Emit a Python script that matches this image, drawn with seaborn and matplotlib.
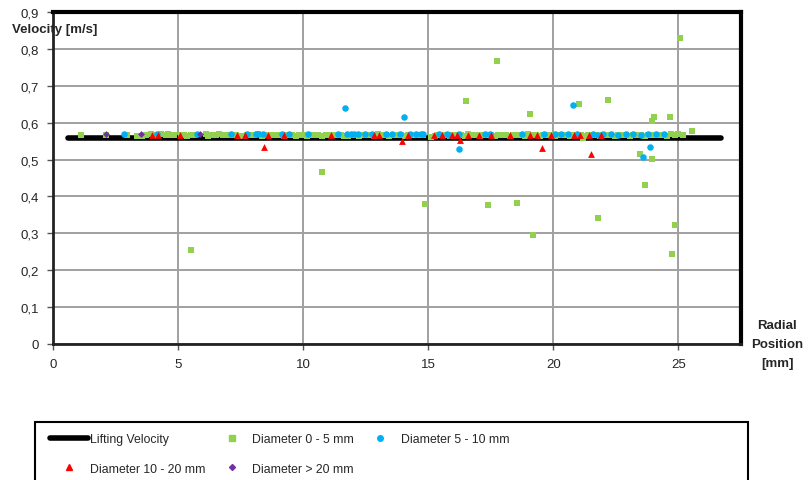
import pandas as pd
import numpy as np
import matplotlib
matplotlib.use('Agg')
import matplotlib.pyplot as plt
import seaborn as sns
from matplotlib.lines import Line2D
from matplotlib.patches import Rectangle

sns.set_style('white')
plt.rcParams['font.family'] = ['Liberation Sans Narrow', 'Liberation Sans', 'DejaVu Sans']

# ===== data =====
lift_x = [0.6, 26.7]
lift_v = [0.558, 0.558]

d0_5_x = [1.12, 2.1, 2.95, 3.35, 3.7, 3.9, 4.1, 4.3, 4.5, 4.7, 5.1, 5.35, 5.5, 5.65,
          6.1, 6.3, 6.5, 6.8, 7.0, 7.3, 7.6, 7.9, 8.2, 8.5, 8.8, 9.1, 9.4, 9.7, 10.0,
          10.3, 10.6, 10.9, 11.2, 11.5, 11.8, 12.1, 12.4, 12.7, 13.0, 13.3, 13.6, 13.9,
          14.2, 14.5, 14.8, 15.1, 15.4, 15.7, 16.0, 16.3, 16.6, 16.9, 17.2, 17.5, 17.8,
          18.1, 18.4, 18.7, 19.0, 19.3, 19.6, 19.9, 20.2, 20.5, 20.8, 21.1, 21.4, 21.7,
          22.0, 22.3, 22.6, 22.9, 23.2, 23.5, 23.8, 24.1, 24.4, 24.7, 25.0, 25.2,
          3.55, 4.6, 4.85, 5.25, 6.2, 6.65, 7.15, 7.45, 7.75, 8.05, 8.35, 8.65, 8.95,
          9.25, 9.55, 9.85, 10.15, 10.45, 10.75, 11.05, 11.35, 11.65, 11.95, 12.25,
          12.55, 12.85, 13.15, 13.45, 13.75, 14.05, 14.35, 14.65, 15.25, 15.55, 15.85,
          16.15, 16.45, 16.75, 17.05, 17.35, 17.65, 17.95, 18.25, 18.55, 18.85, 19.15,
          19.45, 19.75, 20.05, 20.35, 20.65, 20.95, 21.25, 21.55, 21.85, 22.15, 22.45,
          22.75, 23.05, 23.35, 23.65, 23.95, 24.25, 24.55, 24.85,
          5.52, 10.76, 14.88, 17.4, 18.56, 19.2, 21.8, 23.68, 24.88, 24.76, 17.75, 16.52,
          19.08, 21.03, 22.19, 25.08, 24.03, 23.96, 24.68, 25.55, 23.47, 23.96, 21.2]
d0_5_v = [0.566, 0.566, 0.566, 0.565, 0.567, 0.569, 0.566, 0.57, 0.566, 0.567, 0.566, 0.565, 0.567, 0.566,
          0.568, 0.566, 0.567, 0.566, 0.566, 0.567, 0.565, 0.566, 0.568, 0.566, 0.566, 0.567, 0.566, 0.565, 0.566,
          0.567, 0.566, 0.566, 0.567, 0.566, 0.565, 0.567, 0.566, 0.566, 0.568, 0.566, 0.567, 0.566,
          0.566, 0.567, 0.566, 0.562, 0.566, 0.567, 0.566, 0.566, 0.568, 0.566, 0.567, 0.566, 0.566,
          0.567, 0.566, 0.566, 0.568, 0.566, 0.567, 0.566, 0.566, 0.567, 0.566, 0.566, 0.567, 0.566,
          0.567, 0.566, 0.567, 0.566, 0.566, 0.567, 0.566, 0.567, 0.566, 0.568, 0.568, 0.567,
          0.565, 0.569, 0.566, 0.567, 0.565, 0.568, 0.566, 0.565, 0.567, 0.566, 0.564, 0.566, 0.567,
          0.565, 0.567, 0.566, 0.564, 0.566, 0.565, 0.567, 0.566, 0.564, 0.566, 0.565,
          0.567, 0.565, 0.566, 0.564, 0.566, 0.565, 0.567, 0.566, 0.565, 0.566, 0.564,
          0.567, 0.565, 0.566, 0.565, 0.567, 0.565, 0.566, 0.564, 0.566, 0.565, 0.567,
          0.565, 0.566, 0.564, 0.566, 0.565, 0.567, 0.565, 0.566, 0.564, 0.566, 0.565,
          0.566, 0.564, 0.566, 0.565, 0.566, 0.567, 0.565, 0.566,
          0.255, 0.466, 0.380, 0.378, 0.382, 0.295, 0.342, 0.431, 0.323, 0.245, 0.768, 0.660,
          0.624, 0.651, 0.662, 0.830, 0.616, 0.605, 0.616, 0.578, 0.516, 0.502, 0.558]

d5_10_x = [2.85, 4.15, 5.75, 7.12, 7.77, 8.12, 8.21, 8.41, 9.15, 9.45, 10.19, 11.39, 11.75,
           11.9, 12.05, 12.2, 12.48, 12.75, 13.3, 13.57, 13.88, 14.28, 14.5, 14.7, 14.8, 15.41,
           15.75, 15.81, 16.21, 17.28, 17.48, 18.75, 19.61, 20.08, 20.3, 20.6, 20.95, 21.6, 21.8,
           22.0, 22.3, 22.6, 22.9, 23.2, 23.5, 23.8, 24.1, 24.41,
           11.68, 14.01, 16.24, 20.8, 23.85, 23.6]
d5_10_v = [0.569, 0.568, 0.568, 0.568, 0.568, 0.568, 0.569, 0.568, 0.568, 0.569, 0.568, 0.568, 0.569,
           0.568, 0.568, 0.569, 0.568, 0.568, 0.568, 0.568, 0.568, 0.568, 0.569, 0.568, 0.568, 0.568,
           0.568, 0.567, 0.568, 0.568, 0.569, 0.568, 0.568, 0.568, 0.568, 0.569, 0.568, 0.568, 0.567,
           0.568, 0.568, 0.567, 0.568, 0.568, 0.567, 0.568, 0.568, 0.569,
           0.639, 0.615, 0.529, 0.648, 0.535, 0.506]

d10_20_x = [3.97, 4.19, 5.08, 7.37, 7.68, 8.61, 9.25, 11.12, 12.83, 13.05, 14.17, 15.21, 15.55,
            15.96, 16.15, 16.57, 17.01, 17.51, 18.25, 19.07, 19.35, 19.92, 20.81, 21.08, 21.41,
            21.92, 8.44, 13.95, 16.25, 19.55, 21.49]
d10_20_v = [0.567, 0.567, 0.566, 0.567, 0.567, 0.566, 0.567, 0.566, 0.567, 0.566, 0.566, 0.567, 0.566,
            0.567, 0.566, 0.566, 0.567, 0.566, 0.567, 0.567, 0.566, 0.567, 0.567, 0.567, 0.566,
            0.566, 0.534, 0.551, 0.553, 0.531, 0.515]

d20_x = [2.1, 3.5, 5.88]
d20_v = [0.568, 0.568, 0.568]

names = ['Diameter 0 - 5 mm', 'Diameter 5 - 10 mm', 'Diameter 10 - 20 mm', 'Diameter > 20 mm']
colors = ['#92D050', '#00B0F0', '#FF0000', '#7030A0']
markers = ['s', 'o', '^', 'D']
sizes = [24, 22, 24, 12]

df = pd.concat([
    pd.DataFrame({'x': d0_5_x, 'v': d0_5_v, 'grp': names[0]}),
    pd.DataFrame({'x': d5_10_x, 'v': d5_10_v, 'grp': names[1]}),
    pd.DataFrame({'x': d10_20_x, 'v': d10_20_v, 'grp': names[2]}),
    pd.DataFrame({'x': d20_x, 'v': d20_v, 'grp': names[3]}),
], ignore_index=True)

fig = plt.figure(figsize=(8.08, 4.81), dpi=100)
ax = fig.add_axes([53/808, 1 - 345/481, (741 - 53)/808, (345 - 13)/481])

ax.grid(True, color='#a0a0a0', linewidth=1.4, zorder=0)
ax.set_axisbelow(True)

sns.lineplot(x=lift_x, y=lift_v, color='black', linewidth=4, solid_capstyle='round', ax=ax, zorder=2)
for name, c, m, s in zip(names, colors, markers, sizes):
    sub = df[df['grp'] == name]
    sns.scatterplot(data=sub, x='x', y='v', color=c, marker=m, s=s, linewidth=0, ax=ax, zorder=3)

ax.set_xlim(0, 27.5)
ax.set_ylim(0, 0.9)
ax.set_xticks([0, 5, 10, 15, 20, 25])
ax.set_yticks(np.arange(0, 0.91, 0.1))
ax.set_yticklabels(['0'] + [f'{t:.1f}'.replace('.', ',') for t in np.arange(0.1, 0.91, 0.1)])
ax.tick_params(axis='both', labelsize=9.5, length=4, width=1, color='#555555', direction='out',
               left=True, bottom=True, pad=6)
ax.set_xlabel('')
ax.set_ylabel('')

for side in ['top', 'right']:
    ax.spines[side].set_linewidth(3)
    ax.spines[side].set_color('black')
for side in ['left', 'bottom']:
    ax.spines[side].set_linewidth(2)
    ax.spines[side].set_color('#222222')

fig.text(12/808, 1 - 30/481, 'Velocity [m/s]', fontsize=9.5, fontweight='bold', va='center', ha='left')
fig.text(777/808, 1 - 345/481, 'Radial\nPosition\n[mm]', fontsize=9.5, fontweight='bold',
         va='center', ha='center', linespacing=1.75)

# legend frame drawn separately (wider than the entries, runs off the bottom)
fig.patches.append(Rectangle((35/808, -0.02), 713/808, 0.02 + (481 - 423)/481,
                             transform=fig.transFigure, fill=False, edgecolor='black',
                             linewidth=1.5))

handles = [
    Line2D([], [], color='black', linewidth=4, solid_capstyle='round'),
    Line2D([], [], color=colors[2], marker='^', linestyle='none', markersize=4),
    Line2D([], [], color=colors[0], marker='s', linestyle='none', markersize=4),
    Line2D([], [], color=colors[3], marker='D', linestyle='none', markersize=3),
    Line2D([], [], color=colors[1], marker='o', linestyle='none', markersize=4),
]
labels = ['Lifting Velocity', names[2], names[0], names[3], names[1]]
leg = fig.legend(handles, labels, ncol=3, loc='upper left',
                 bbox_to_anchor=(50/808, 1 - 434/481), frameon=False, fontsize=8.8,
                 handlelength=3.1, handletextpad=0.15, columnspacing=0.6,
                 borderpad=0, labelspacing=1.45, borderaxespad=0)

fig.savefig('out.png', dpi=100)
plt.close()
